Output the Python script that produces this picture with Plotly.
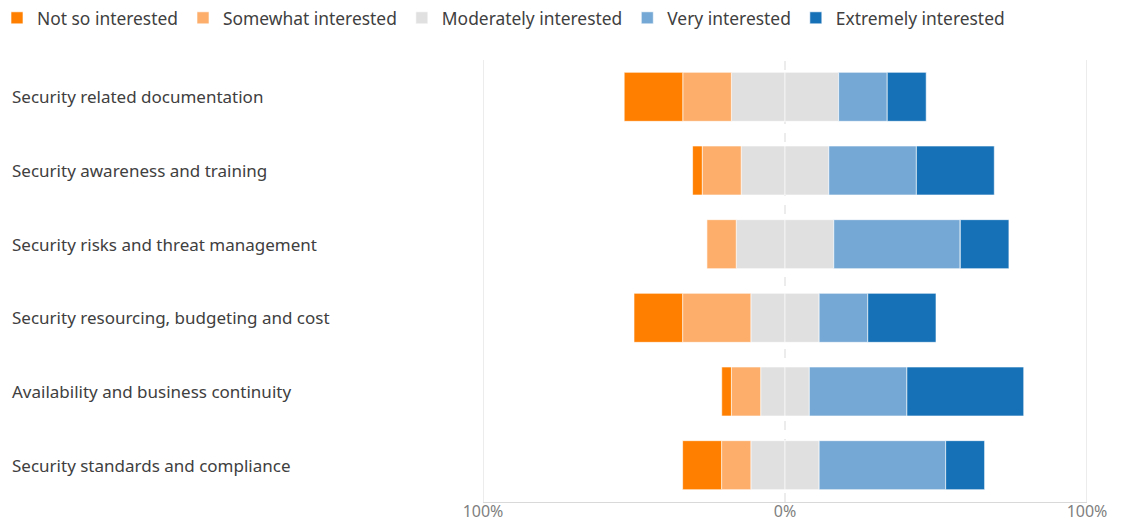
import plotly.graph_objects as go

categories = [
    "Security related documentation",
    "Security awareness and training",
    "Security risks and threat management",
    "Security resourcing, budgeting and cost",
    "Availability and business continuity",
    "Security standards and compliance",
]
# percent of respondents
not_so = [19.4, 3.2, 0.0, 16.1, 3.2, 12.9]
somewhat = [16.1, 12.9, 9.7, 22.6, 9.7, 9.7]
moderately = [35.5, 29.0, 32.3, 22.6, 16.1, 22.6]
very = [16.1, 29.0, 41.9, 16.1, 32.3, 41.9]
extremely = [12.9, 25.8, 16.1, 22.6, 38.7, 12.9]

tick_vals = [-100, 0, 100]
tick_text = ["100%", "0%", "100%"]

colors = {
    "not": "#FF7F00",
    "some": "#FDAE6B",
    "mod": "#E0E0E0",
    "very": "#75A8D4",
    "ext": "#1671B7",
}

font_family = "Noto Sans, Open Sans, sans-serif"
line = dict(color="rgba(255,255,255,0.6)", width=1)

fig = go.Figure()
half_mod = [m / 2 for m in moderately]
fig.add_trace(go.Bar(y=categories, x=[-h for h in half_mod], orientation="h",
                     name="Moderately interested", marker=dict(color=colors["mod"], line=line),
                     legendrank=3, showlegend=True))
fig.add_trace(go.Bar(y=categories, x=half_mod, orientation="h",
                     name="Moderately interested", marker=dict(color=colors["mod"], line=line),
                     showlegend=False))
fig.add_trace(go.Bar(y=categories, x=[-v for v in somewhat], orientation="h",
                     name="Somewhat interested", marker=dict(color=colors["some"], line=line),
                     legendrank=2))
fig.add_trace(go.Bar(y=categories, x=very, orientation="h",
                     name="Very interested", marker=dict(color=colors["very"], line=line),
                     legendrank=4))
fig.add_trace(go.Bar(y=categories, x=[-v for v in not_so], orientation="h",
                     name="Not so interested", marker=dict(color=colors["not"], line=line),
                     legendrank=1))
fig.add_trace(go.Bar(y=categories, x=extremely, orientation="h",
                     name="Extremely interested", marker=dict(color=colors["ext"], line=line),
                     legendrank=5))

W, H = 1123, 521
ml, mr, mt, mb = 483, 36, 60, 19
pw = W - ml - mr
ph = H - mt - mb

for c in categories:
    fig.add_annotation(x=(10 - ml) / pw, xref="paper", y=c, yref="y", text=c,
                       xanchor="left", showarrow=False,
                       font=dict(size=17, color="#404040", family=font_family))

fig.add_shape(type="line", x0=0, x1=0, xref="x", y0=0, y1=1, yref="paper",
              line=dict(color="#D9D9D9", width=1, dash="dash"), layer="below")
fig.add_shape(type="line", x0=-100, x1=-100, xref="x", y0=0, y1=1, yref="paper",
              line=dict(color="#D9D9D9", width=1), layer="below")
fig.add_shape(type="line", x0=100, x1=100, xref="x", y0=0, y1=1, yref="paper",
              line=dict(color="#D9D9D9", width=1), layer="below")

fig.update_layout(
    width=W, height=H,
    margin=dict(l=ml, r=mr, t=mt, b=mb, autoexpand=False),
    template="none",
    barmode="relative",
    bargap=0.335,
    plot_bgcolor="white", paper_bgcolor="white",
    font=dict(family=font_family, color="#404040"),
    showlegend=True,
    legend=dict(orientation="h", x=(-3 - ml) / pw, xref="paper", xanchor="left",
                y=1 + mt / ph, yref="paper", yanchor="top",
                font=dict(size=17.4, color="#404040"), itemwidth=30,
                traceorder="normal", itemclick=False, bgcolor="rgba(0,0,0,0)"),
    xaxis=dict(range=[-100, 100], tickvals=tick_vals, ticktext=tick_text,
               showgrid=False, zeroline=False, showline=True, linecolor="#D9D9D9", linewidth=1,
               ticks="", tickfont=dict(size=16, color="#7F7F7F"), automargin=False,
               ticklabelstandoff=-5),
    yaxis=dict(categoryorder="array", categoryarray=categories[::-1], showticklabels=False,
               showgrid=False, zeroline=False, showline=False, ticks="", automargin=False),
)

fig.write_html("out.html", config={"displayModeBar": False},
               post_script="document.body.style.margin='0';document.body.style.overflow='hidden';")
